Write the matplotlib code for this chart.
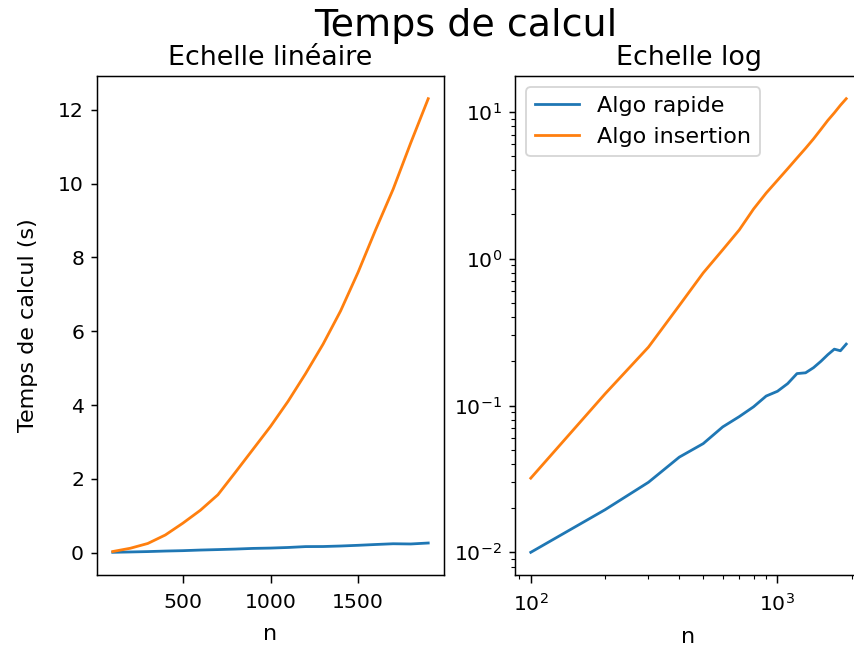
import numpy as np
from matplotlib import pyplot as plt

# tailles n testees
n = np.array([100, 200, 300, 400, 500, 600, 700, 800, 900, 1000,
              1100, 1200, 1300, 1400, 1500, 1600, 1700, 1800, 1900])
# temps (s)
t_rapide = np.array([0.0100, 0.0195, 0.0300, 0.0445, 0.0550, 0.0715, 0.0840, 0.0980, 0.116, 0.125,
                     0.141, 0.165, 0.167, 0.181, 0.200, 0.222, 0.242, 0.236, 0.262])
t_insertion = np.array([0.032, 0.12, 0.25, 0.48, 0.80, 1.15, 1.57, 2.18, 2.80, 3.42,
                        4.10, 4.85, 5.65, 6.55, 7.60, 8.75, 9.85, 11.1, 12.3])

plt.rcParams['font.size'] = 12
plt.rcParams['xtick.labelsize'] = 11
plt.rcParams['ytick.labelsize'] = 11
plt.rcParams['axes.titlesize'] = 14.5
plt.rcParams['xtick.major.size'] = 4.5
plt.rcParams['xtick.major.pad'] = 5

dpi = 133.44
fig = plt.figure(figsize=(854 / dpi, 650 / dpi), dpi=dpi)
# figure d'origine plus large, rognee a droite
fig.suptitle("Temps de calcul", fontsize=20.5, x=466 / 854, y=0.987)

# echelle lineaire
ax1 = fig.add_axes([97 / 854, 75 / 650, 347 / 854, 499 / 650])
ax1.plot(n, t_rapide, label="Algo rapide")
ax1.plot(n, t_insertion, label="Algo insertion")
ax1.set_title("Echelle linéaire")
ax1.set_xlabel("n", labelpad=6.5)
ax1.set_ylabel("Temps de calcul (s)", labelpad=11)

# echelle log
ax2 = fig.add_axes([515 / 854, 75 / 650, 347 / 854, 499 / 650])
ax2.plot(n, t_rapide, label="Algo rapide")
ax2.plot(n, t_insertion, label="Algo insertion")
ax2.set_xscale("log")
ax2.set_yscale("log")
ax2.set_title("Echelle log")
ax2.set_xlabel("n", labelpad=7)
ax2.legend(loc="upper left")

fig.savefig("out.png", dpi=dpi)
